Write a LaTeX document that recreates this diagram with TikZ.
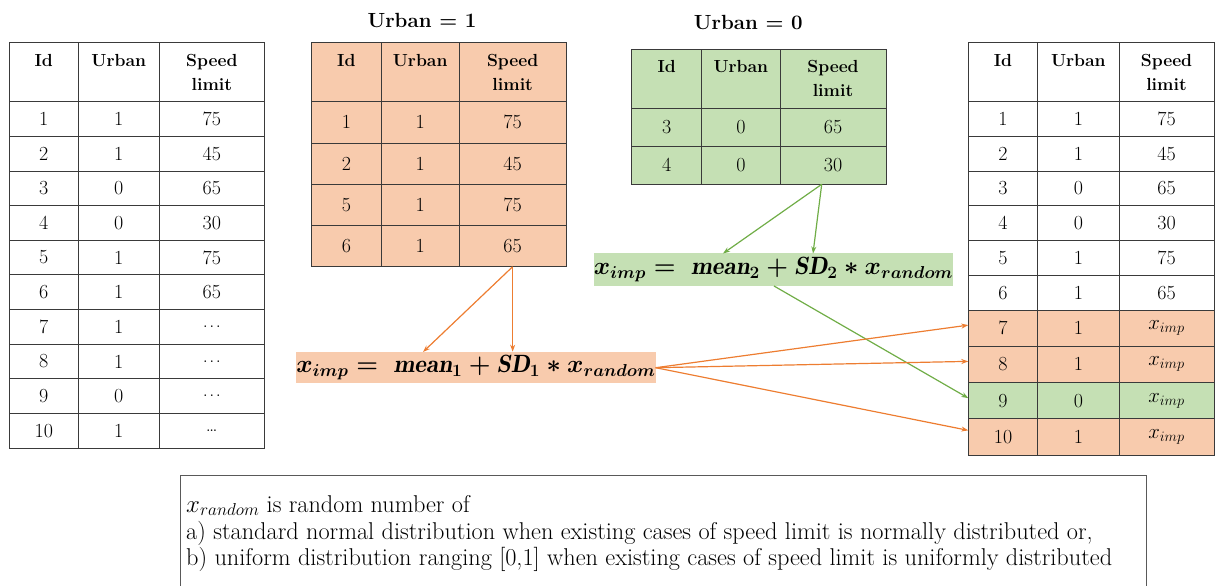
\documentclass[tikz,border=0pt]{standalone}
\usepackage{fontspec}
\usepackage{amsmath}
\usetikzlibrary{arrows.meta,calc}
\definecolor{orfill}{HTML}{F8CBAD}
\definecolor{grfill}{HTML}{C5E0B4}
\definecolor{orline}{HTML}{ED7D31}
\definecolor{grline}{HTML}{70AD47}
\definecolor{tabline}{HTML}{3A3A3A}
\definecolor{boxline}{HTML}{595959}
\newcommand{\myell}{.\kern1.5pt.\kern1.5pt.}
\newcommand{\mydots}{\dots}
\newcommand{\ximp}{{\fontsize{22}{24}\selectfont$x_{imp}$}}
\begin{document}
\begin{tikzpicture}[x=1pt,y=-1pt,
  cell/.style={draw=tabline,line width=0.8pt,inner sep=0pt,outer sep=0pt,anchor=north west,
    font=\fontsize{20}{23}\selectfont},
  hcell/.style={cell,align=center,font=\fontsize{17.5}{24}\selectfont\bfseries},
  title/.style={anchor=base,font=\fontsize{20.5}{26}\selectfont\bfseries},
  fbox/.style={inner sep=0pt,outer sep=0pt,font=\fontsize{25}{28}\selectfont\boldmath},
  oarr/.style={draw=orline,line width=1.2pt,-{Stealth[length=7pt,width=5pt]}},
  garr/.style={draw=grline,line width=1.2pt,-{Stealth[length=7pt,width=5pt]}},
  note/.style={anchor=base west,inner sep=0pt,font=\fontsize{24.3}{28}\selectfont}]
\useasboundingbox (0,0) rectangle (1215,586);

% ---------------- left table ----------------
\node[hcell,minimum width=69pt,minimum height=59pt] (L0-a) at (9.3,42.7) {Id\\\phantom{l}};
\node[hcell,minimum width=81pt,minimum height=59pt] (L0-b) at (78.3,42.7) {Urban\\\phantom{l}};
\node[hcell,minimum width=105pt,minimum height=59pt] (L0-c) at (159.3,42.7) {Speed\\limit};
\foreach \i/\u/\s in {1/1/75,2/1/45,3/0/65,4/0/30,5/1/75,6/1/65,7/1/\myell,8/1/\myell,9/0/\myell,10/1/\mydots}{
  \pgfmathsetmacro\yy{101.7+(\i-1)*34.63}
  \node[cell,minimum width=69pt,minimum height=34.63pt] (L\i-a) at (9.3,\yy) {\i};
  \node[cell,minimum width=81pt,minimum height=34.63pt] (L\i-b) at (78.3,\yy) {\u};
  \node[cell,minimum width=105pt,minimum height=34.63pt] (L\i-c) at (159.3,\yy) {\s};
}

% ---------------- Urban = 1 table ----------------
\node[title] (T1) at (422,27.5) {Urban = 1};
\node[hcell,fill=orfill,minimum width=69.3pt,minimum height=59pt] (U10-a) at (311.7,42.7) {Id\\\phantom{l}};
\node[hcell,fill=orfill,minimum width=78.3pt,minimum height=59pt] (U10-b) at (381,42.7) {Urban\\\phantom{l}};
\node[hcell,fill=orfill,minimum width=106.7pt,minimum height=59pt] (U10-c) at (459.3,42.7) {Speed\\limit};
\foreach \i/\d/\u/\s in {1/1/1/75,2/2/1/45,3/5/1/75,4/6/1/65}{
  \pgfmathsetmacro\yy{101.7+(\i-1)*41.25}
  \node[cell,fill=orfill,minimum width=69.3pt,minimum height=41.25pt] (U1\i-a) at (311.7,\yy) {\d};
  \node[cell,fill=orfill,minimum width=78.3pt,minimum height=41.25pt] (U1\i-b) at (381,\yy) {\u};
  \node[cell,fill=orfill,minimum width=106.7pt,minimum height=41.25pt] (U1\i-c) at (459.3,\yy) {\s};
}

% ---------------- Urban = 0 table ----------------
\node[title] (T0) at (748.3,30) {Urban = 0};
\node[hcell,fill=grfill,minimum width=70pt,minimum height=59pt] (U00-a) at (631.7,49.3) {Id\\\phantom{l}};
\node[hcell,fill=grfill,minimum width=78.3pt,minimum height=59pt] (U00-b) at (701.7,49.3) {Urban\\\phantom{l}};
\node[hcell,fill=grfill,minimum width=106pt,minimum height=59pt] (U00-c) at (780,49.3) {Speed\\limit};
\foreach \i/\d/\u/\s in {1/3/0/65,2/4/0/30}{
  \pgfmathsetmacro\yy{108.3+(\i-1)*38}
  \node[cell,fill=grfill,minimum width=70pt,minimum height=38pt] (U0\i-a) at (631.7,\yy) {\d};
  \node[cell,fill=grfill,minimum width=78.3pt,minimum height=38pt] (U0\i-b) at (701.7,\yy) {\u};
  \node[cell,fill=grfill,minimum width=106pt,minimum height=38pt] (U0\i-c) at (780,\yy) {\s};
}

% ---------------- right table ----------------
\node[hcell,minimum width=69.4pt,minimum height=59pt] (R0-a) at (968.3,42.7) {Id\\\phantom{l}};
\node[hcell,minimum width=81.3pt,minimum height=59pt] (R0-b) at (1037.7,42.7) {Urban\\\phantom{l}};
\node[hcell,minimum width=95pt,minimum height=59pt] (R0-c) at (1119,42.7) {Speed\\limit};
\foreach \i/\u/\s/\f/\yy/\h in {
  1/1/75/white/101.7/34.72, 2/1/45/white/136.42/34.72, 3/0/65/white/171.14/34.72,
  4/0/30/white/205.86/34.72, 5/1/75/white/240.58/34.72, 6/1/65/white/275.3/34.72,
  7/1/\ximp/orfill/310/36.25, 8/1/\ximp/orfill/346.25/36.25,
  9/0/\ximp/grfill/382.5/36.25, 10/1/\ximp/orfill/418.75/36.25}{
  \node[cell,fill=\f,minimum width=69.4pt,minimum height=\h pt] (R\i-a) at (968.3,\yy) {\i};
  \node[cell,fill=\f,minimum width=81.3pt,minimum height=\h pt] (R\i-b) at (1037.7,\yy) {\u};
  \node[cell,fill=\f,minimum width=95pt,minimum height=\h pt] (R\i-c) at (1119,\yy) {\s};
}

% ---------------- formulas ----------------
\node[fbox,fill=orfill,minimum width=359.7pt,minimum height=31.6pt] (F1) at (475.9,367.5)
  {$x_{imp} =\ \mathit{mean}_1 + \mathit{SD}_1 * x_{random}$};
\node[fbox,fill=grfill,minimum width=358.7pt,minimum height=32.7pt] (F0) at (773.4,269.7)
  {$x_{imp} =\ \mathit{mean}_2 + \mathit{SD}_2 * x_{random}$};

% ---------------- connectors ----------------
\coordinate (F1in) at (423,352);
\coordinate (G0out) at (821.7,184.3);
\coordinate (F0inA) at (723,253.5);
\coordinate (F0inB) at (813,253.5);
\coordinate (F0out) at (774,286);
\coordinate (F1out) at (655.7,367.7);
\draw[oarr] (U14-c.south) -- (F1in);
\draw[oarr] (U14-c.south) -- (U14-c.south |- F1.north);
\draw[garr] (G0out) -- (F0inA);
\draw[garr] (G0out) -- (F0inB);
\draw[garr] (F0out) -- ($(R9-a.west)+(0,-2.5)$);
\draw[oarr] (F1out) -- ($(R7-a.west)+(0,-3)$);
\draw[oarr] (F1out) -- ($(R8-a.west)+(0,-3)$);
\draw[oarr] (F1out) -- ($(R10-a.west)+(0,-6.5)$);

% ---------------- note box ----------------
\node[draw=boxline,line width=0.8pt,anchor=north west,inner sep=0pt,minimum width=965.7pt,minimum height=140pt] (NB) at (180,475) {};
\node[note] (N1) at (186,512) {$x_{random}$ is random number of};
\node[note] (N2) at (186,539) {a) standard normal distribution when existing cases of speed limit is normally distributed or,};
\node[note] (N3) at (186,565) {b) uniform distribution ranging [0,1] when existing cases of speed limit is uniformly distributed};
\end{tikzpicture}
\end{document}
